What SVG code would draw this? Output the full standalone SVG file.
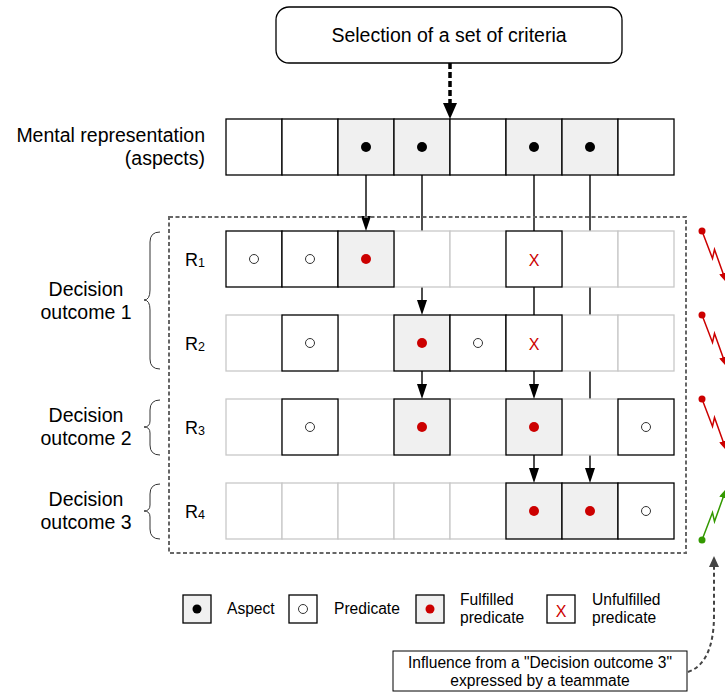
<svg xmlns="http://www.w3.org/2000/svg" width="725" height="694" viewBox="0 0 725 694">
<defs>
<style>
text{font-family:"Liberation Sans",Arial,Helvetica,sans-serif;fill:#000}
.big{font-size:19.5px}
.lbl{font-size:18px}
.sub{font-size:12.5px}
.sm{font-size:15.6px}
.mid{text-anchor:middle}
.end{text-anchor:end}
.cl{fill:#fff;stroke:#c8c8c8;stroke-width:1.3}
.cs{fill:#fff;stroke:#000;stroke-width:1.3}
.cg{fill:#f0f0f0;stroke:#000;stroke-width:1.3}
.dot{fill:#000}
.rdot{fill:#cc0000}
.open{fill:#fff;stroke:#333;stroke-width:1}
.x{font-size:16px;fill:#cc0000;text-anchor:middle}
.conn{stroke:#000;stroke-width:1.4;fill:none;marker-end:url(#arr)}
.brace{fill:none;stroke:#333;stroke-width:1}
</style>
<marker id="arr" markerUnits="userSpaceOnUse" markerWidth="15" markerHeight="10" refX="7" refY="5" orient="auto"><path d="M0,0 L15,5 L0,10 z" fill="#000"/></marker>
<marker id="big" markerUnits="userSpaceOnUse" markerWidth="16" markerHeight="14" refX="6" refY="7" orient="auto"><path d="M0,0 L16,7 L0,14 z" fill="#000"/></marker>
<marker id="garr" markerUnits="userSpaceOnUse" markerWidth="11" markerHeight="10" refX="1" refY="5" orient="auto"><path d="M0,0 L11,5 L0,10 z" fill="#444"/></marker>
<marker id="rarr" markerUnits="userSpaceOnUse" markerWidth="10" markerHeight="8" refX="3" refY="4" orient="auto"><path d="M0,0 L10,4 L0,8 z" fill="#cc0000"/></marker>
<marker id="gnarr" markerUnits="userSpaceOnUse" markerWidth="10" markerHeight="8" refX="3" refY="4" orient="auto"><path d="M0,0 L10,4 L0,8 z" fill="#339900"/></marker>
</defs>
<rect width="725" height="694" fill="#fff"/>

<g id="connectors">
<line x1="450" y1="63" x2="450" y2="109" stroke="#000" stroke-width="3.5" stroke-dasharray="6 3" marker-end="url(#big)"/>
<path class="conn" d="M366,175 L366,223"/>
<path class="conn" d="M422,175 L422,307"/>
<path class="conn" d="M422,371 L422,391"/>
<path class="conn" d="M534,175 L534,391"/>
<path class="conn" d="M534,455 L534,475"/>
<path class="conn" d="M590,175 L590,475"/>
<path d="M688,672 C706,666 714,645 714,615 L714,566" fill="none" stroke="#444" stroke-width="2" stroke-dasharray="4 3" marker-end="url(#garr)"/>
<g fill="none" stroke="#cc0000" stroke-width="1.5">
<path d="M702,231 L712.5,258.5 L714.5,249.5 L724,276" marker-end="url(#rarr)"/>
<path d="M702,315 L712.5,342.5 L714.5,333.5 L724,360" marker-end="url(#rarr)"/>
<path d="M702,399 L712.5,426.5 L714.5,417.5 L724,444" marker-end="url(#rarr)"/>
</g>
<path d="M702,540 L712.5,512.5 L714.5,521.5 L724,495" fill="none" stroke="#339900" stroke-width="1.5" marker-end="url(#gnarr)"/>
<circle cx="702" cy="231" r="3.5" fill="#cc0000"/>
<circle cx="702" cy="315" r="3.5" fill="#cc0000"/>
<circle cx="702" cy="399" r="3.5" fill="#cc0000"/>
<circle cx="702" cy="540" r="3.5" fill="#339900"/>
</g>

<g id="criteria">
<rect x="276" y="7" width="346" height="56" rx="13" fill="#fff" stroke="#000" stroke-width="1.3"/>
<text class="big mid" x="449" y="42">Selection of a set of criteria</text>
</g>

<g id="container">
<rect x="169" y="217" width="517" height="336" fill="none" stroke="#666" stroke-width="2" stroke-dasharray="4 2.5"/>
</g>

<g id="mental">
<text class="big end" x="205" y="142">Mental representation</text>
<text class="big end" x="205" y="165">(aspects)</text>
<rect class="cs" x="226" y="119" width="56" height="56"/>
<rect class="cs" x="282" y="119" width="56" height="56"/>
<rect class="cg" x="338" y="119" width="56" height="56"/>
<rect class="cg" x="394" y="119" width="56" height="56"/>
<rect class="cs" x="450" y="119" width="56" height="56"/>
<rect class="cg" x="506" y="119" width="56" height="56"/>
<rect class="cg" x="562" y="119" width="56" height="56"/>
<rect class="cs" x="618" y="119" width="56" height="56"/>
<circle class="dot" cx="366" cy="147" r="5"/>
<circle class="dot" cx="422" cy="147" r="5"/>
<circle class="dot" cx="534" cy="147" r="5"/>
<circle class="dot" cx="590" cy="147" r="5"/>
</g>

<g id="r1">
<text class="lbl" x="185" y="266">R<tspan class="sub" dy="1">1</tspan></text>
<rect class="cl" x="394" y="231" width="56" height="56"/>
<rect class="cl" x="450" y="231" width="56" height="56"/>
<rect class="cl" x="562" y="231" width="56" height="56"/>
<rect class="cl" x="618" y="231" width="56" height="56"/>
<rect class="cs" x="226" y="231" width="56" height="56"/>
<rect class="cs" x="282" y="231" width="56" height="56"/>
<rect class="cg" x="338" y="231" width="56" height="56"/>
<rect class="cs" x="506" y="231" width="56" height="56"/>
<circle class="open" cx="254" cy="259" r="4.5"/>
<circle class="open" cx="310" cy="259" r="4.5"/>
<circle class="rdot" cx="366" cy="259" r="5"/>
<text class="x" x="534" y="266">X</text>
</g>

<g id="r2">
<text class="lbl" x="185" y="350">R<tspan class="sub" dy="1">2</tspan></text>
<rect class="cl" x="226" y="315" width="56" height="56"/>
<rect class="cl" x="338" y="315" width="56" height="56"/>
<rect class="cl" x="562" y="315" width="56" height="56"/>
<rect class="cl" x="618" y="315" width="56" height="56"/>
<rect class="cs" x="282" y="315" width="56" height="56"/>
<rect class="cg" x="394" y="315" width="56" height="56"/>
<rect class="cs" x="450" y="315" width="56" height="56"/>
<rect class="cs" x="506" y="315" width="56" height="56"/>
<circle class="open" cx="310" cy="343" r="4.5"/>
<circle class="rdot" cx="422" cy="343" r="5"/>
<circle class="open" cx="478" cy="343" r="4.5"/>
<text class="x" x="534" y="350">X</text>
</g>

<g id="r3">
<text class="lbl" x="185" y="434">R<tspan class="sub" dy="1">3</tspan></text>
<rect class="cl" x="226" y="399" width="56" height="56"/>
<rect class="cl" x="338" y="399" width="56" height="56"/>
<rect class="cl" x="450" y="399" width="56" height="56"/>
<rect class="cl" x="562" y="399" width="56" height="56"/>
<rect class="cs" x="282" y="399" width="56" height="56"/>
<rect class="cg" x="394" y="399" width="56" height="56"/>
<rect class="cg" x="506" y="399" width="56" height="56"/>
<rect class="cs" x="618" y="399" width="56" height="56"/>
<circle class="open" cx="310" cy="427" r="4.5"/>
<circle class="rdot" cx="422" cy="427" r="5"/>
<circle class="rdot" cx="534" cy="427" r="5"/>
<circle class="open" cx="646" cy="427" r="4.5"/>
</g>

<g id="r4">
<text class="lbl" x="185" y="518">R<tspan class="sub" dy="1">4</tspan></text>
<rect class="cl" x="226" y="483" width="56" height="56"/>
<rect class="cl" x="282" y="483" width="56" height="56"/>
<rect class="cl" x="338" y="483" width="56" height="56"/>
<rect class="cl" x="394" y="483" width="56" height="56"/>
<rect class="cl" x="450" y="483" width="56" height="56"/>
<rect class="cg" x="506" y="483" width="56" height="56"/>
<rect class="cg" x="562" y="483" width="56" height="56"/>
<rect class="cs" x="618" y="483" width="56" height="56"/>
<circle class="rdot" cx="534" cy="511" r="5"/>
<circle class="rdot" cx="590" cy="511" r="5"/>
<circle class="open" cx="646" cy="511" r="4.5"/>
</g>

<g id="outcome1">
<path class="brace" d="M160,232 Q150,232 150,242 L150,290 Q150,300 144,300 Q150,300 150,310 L150,359 Q150,369 160,369"/>
<text class="big mid" x="86" y="296">Decision</text>
<text class="big mid" x="86" y="319">outcome 1</text>
</g>
<g id="outcome2">
<path class="brace" d="M160,400 Q150,400 150,410 L150,421 Q150,427 144,427 Q150,427 150,433 L150,445 Q150,455 160,455"/>
<text class="big mid" x="86" y="422">Decision</text>
<text class="big mid" x="86" y="445">outcome 2</text>
</g>
<g id="outcome3">
<path class="brace" d="M160,484 Q150,484 150,494 L150,505 Q150,511 144,511 Q150,511 150,517 L150,529 Q150,539 160,539"/>
<text class="big mid" x="86" y="506">Decision</text>
<text class="big mid" x="86" y="529">outcome 3</text>
</g>

<g id="legend">
<rect class="cg" x="183" y="595" width="28" height="28"/>
<circle class="dot" cx="197" cy="609" r="4.5"/>
<text class="sm" x="227" y="614">Aspect</text>
<rect class="cs" x="289" y="595" width="28" height="28"/>
<circle class="open" cx="303" cy="609" r="4.5"/>
<text class="sm" x="334" y="614">Predicate</text>
<rect class="cg" x="416" y="595" width="28" height="28"/>
<circle class="rdot" cx="430" cy="609" r="4.5"/>
<text class="sm" x="460" y="605">Fulfilled</text>
<text class="sm" x="460" y="623">predicate</text>
<rect class="cs" x="547" y="595" width="28" height="28"/>
<text class="x" x="561" y="617">X</text>
<text class="sm" x="592" y="605">Unfulfilled</text>
<text class="sm" x="592" y="623">predicate</text>
</g>

<g id="influence">
<rect x="393" y="651" width="294" height="40" fill="#fff" stroke="#000" stroke-width="1"/>
<text class="sm mid" x="540" y="668">Influence from a "Decision outcome 3"</text>
<text class="sm mid" x="540" y="686">expressed by a teammate</text>
</g>
</svg>
